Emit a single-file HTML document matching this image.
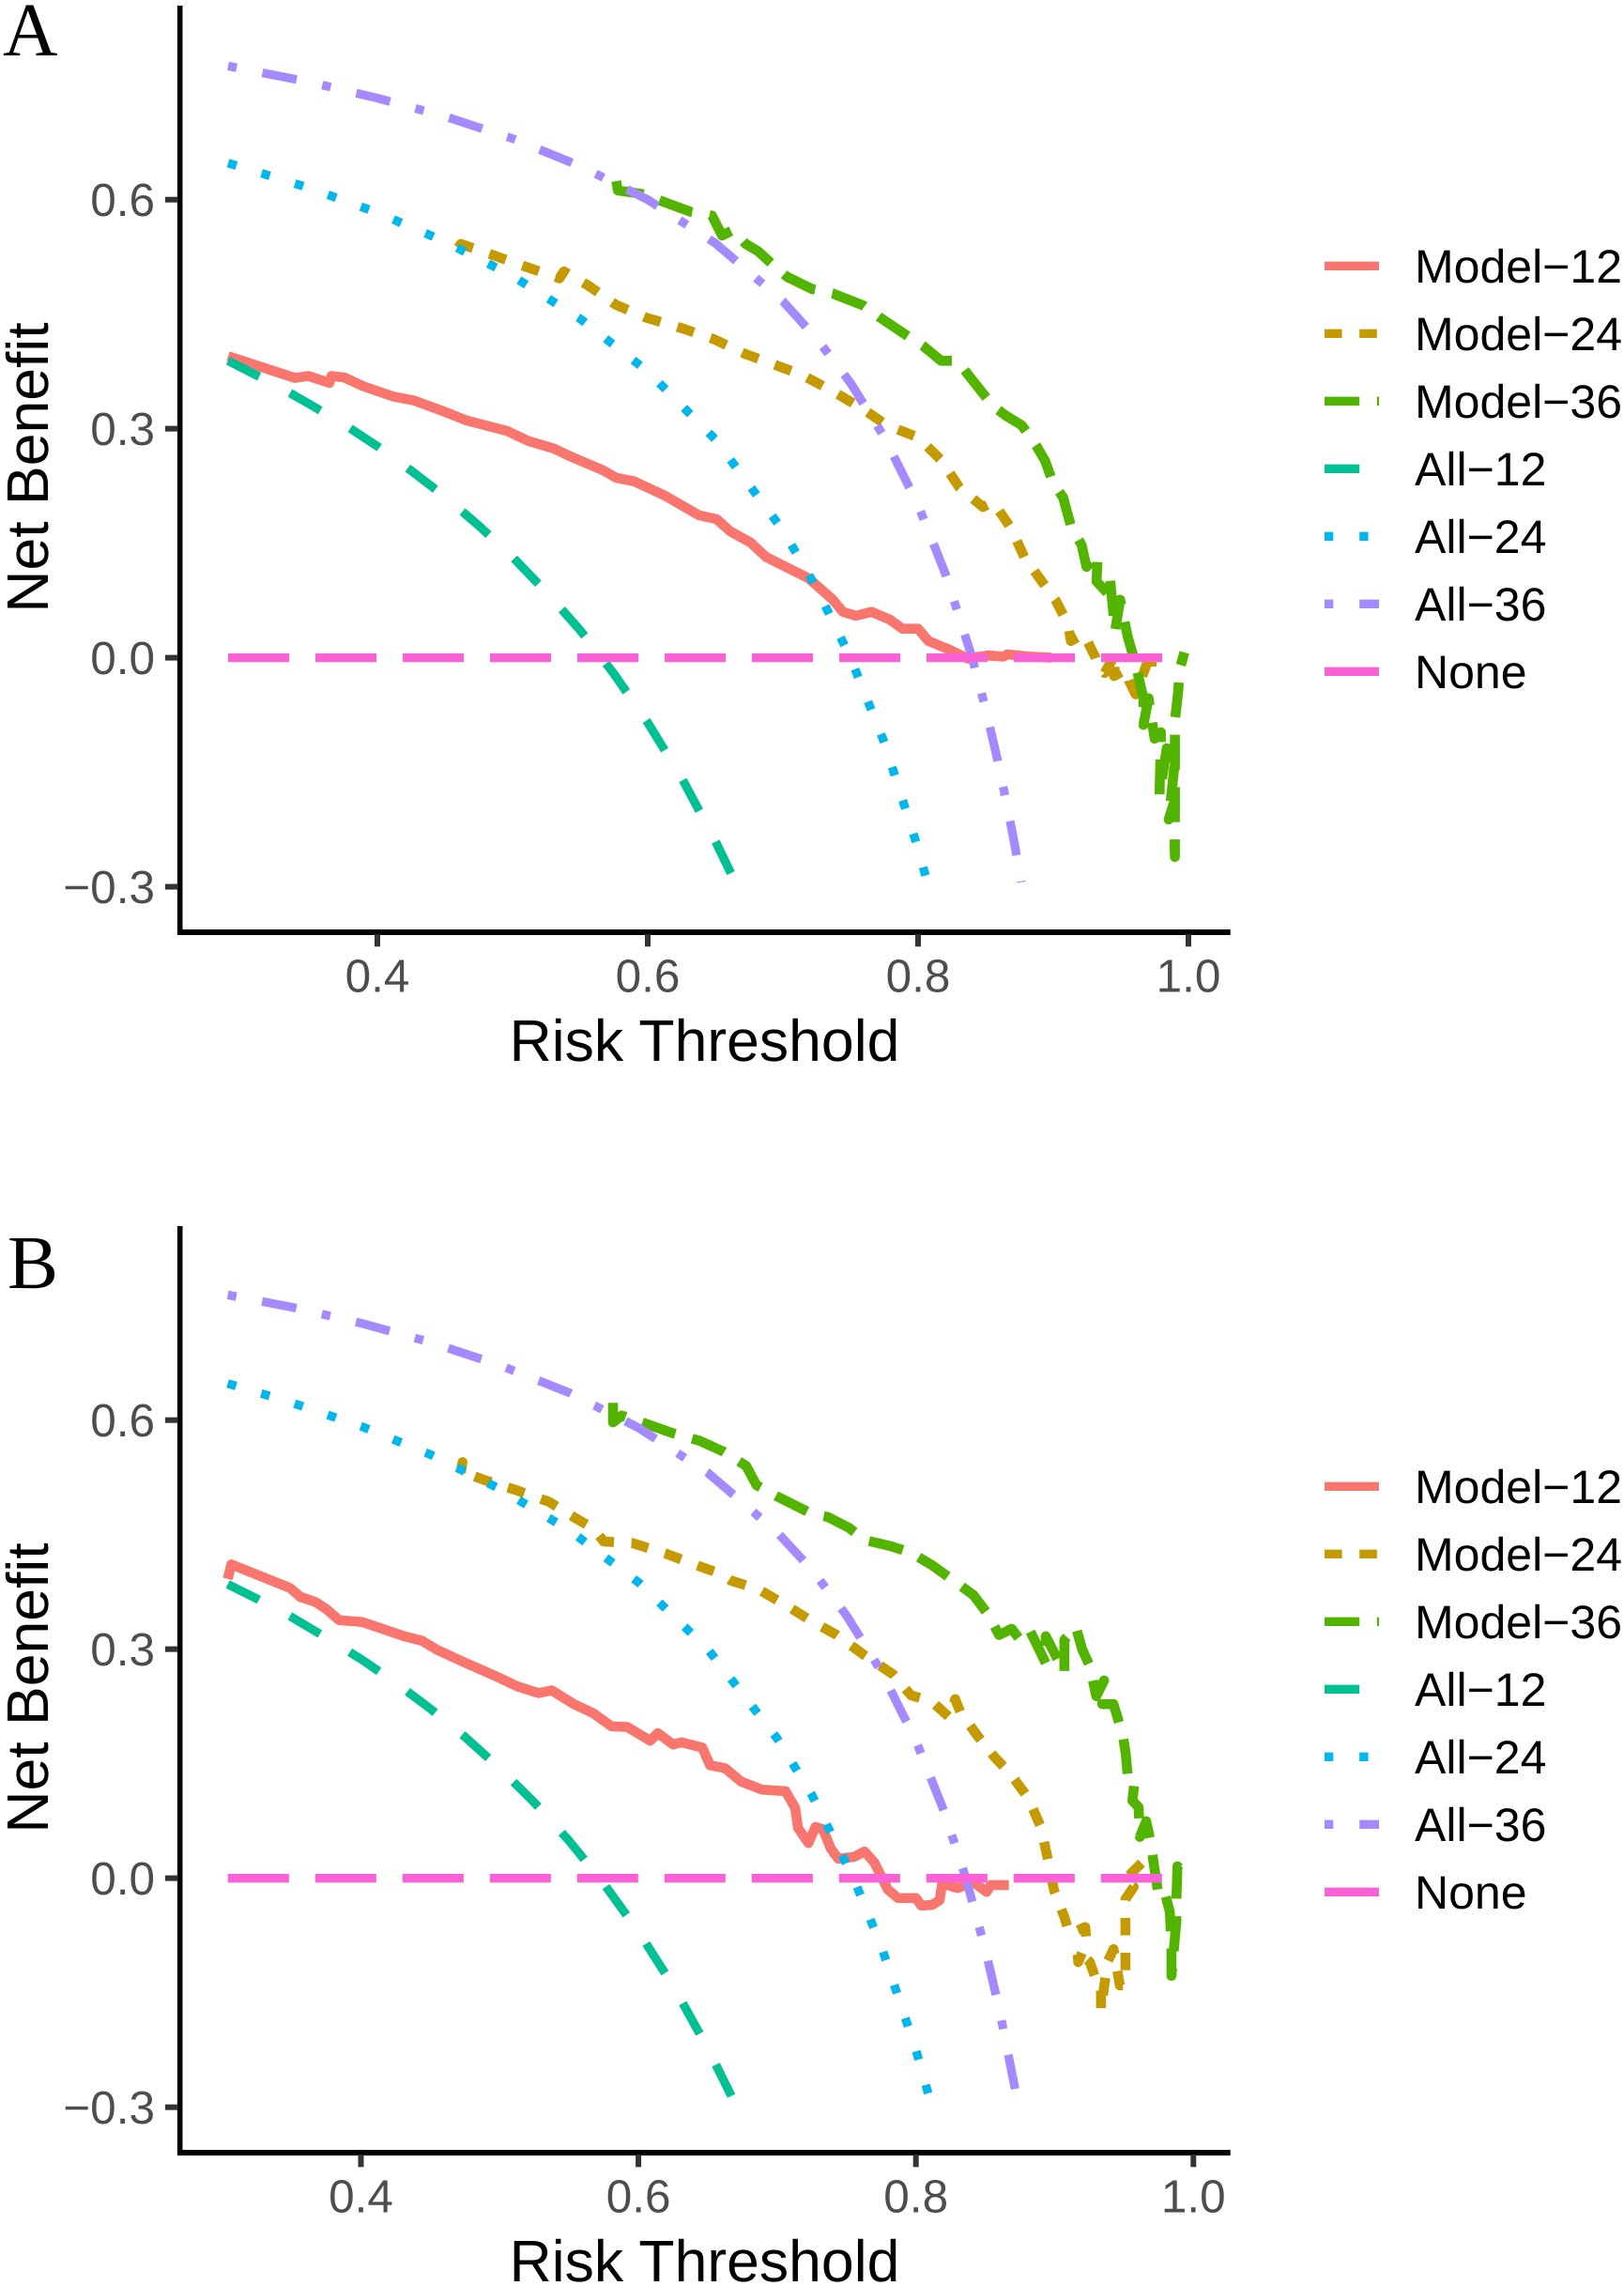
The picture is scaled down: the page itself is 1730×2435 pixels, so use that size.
<!DOCTYPE html>
<html lang="en">
<head>
<meta charset="utf-8">
<title>Decision curves</title>
<style>
html,body{margin:0;padding:0;background:#fff;}
svg{display:block;text-rendering:geometricPrecision;}
text{font-family:"Liberation Sans",sans-serif;}
</style>
</head>
<body>
<svg id="figure" xmlns="http://www.w3.org/2000/svg" width="1730" height="2435" viewBox="0 0 1730 2435">
  <rect x="0" y="0" width="1730" height="2435" fill="#ffffff"/>
  <text x="3" y="59" font-size="81" style="font-family:'Liberation Serif',serif" fill="#000">A</text>
  <text x="8" y="1372" font-size="81" style="font-family:'Liberation Serif',serif" fill="#000">B</text>
  <g id="panel-a"></g>
  <g id="panel-b"></g>
</svg>
<script>
// ---------- shared axis labels ----------
const xTickValues = [0.4, 0.6, 0.8, 1.0];
const xTickLabels = ["0.4", "0.6", "0.8", "1.0"];
const yTickValues = [-0.3, 0, 0.3, 0.6];
const yTickLabels = ["\u22120.3", "0.0", "0.3", "0.6"];
const seriesNames = ["Model\u221212", "Model\u221224", "Model\u221236", "All\u221212", "All\u221224", "All\u221236", "None"];

// ---------- panel A ----------
const aModel12T = [.2896,.339,.349,.3646,.366,.3757,.389,.412,.427,.450,.4656,.496,.5116,.5306,.5424,.567,.5767,.590,.613,.638,.651,.661,.676,.6875,.719,.737,.7444,.754,.7656,.779,.7885,.800,.8076,.823,.8365,.852,.863,.866,.8826,.8986];
const aModel12V = [.395,.3665,.369,.360,.369,.367,.356,.342,.337,.322,.311,.297,.284,.274,.264,.2455,.2357,.231,.212,.1865,.1815,.1656,.151,.132,.104,.076,.060,.055,.060,.050,.038,.038,.022,.0107,-.001,.003,.0014,.0044,.0014,0];
const aModel24T = [.4597,.4618,.4868,.5116,.5347,.538,.5556,.5767,.5997,.6264,.6493,.672,.6937,.7146,.737,.758,.777,.800,.817,.8306,.848,.8556,.869,.8785,.894,.9015,.911,.913,.9226,.931,.9333,.938,.946,.945,.954,.956,.961,.9727,.9727];
const aModel24V = [.537,.542,.5266,.511,.497,.506,.488,.462,.445,.431,.417,.398,.384,.370,.349,.327,.3045,.2885,.259,.223,.1975,.204,.169,.132,.094,.076,.044,.022,.0315,.001,-.0115,-.02,.005,-.024,-.015,-.03,-.048,.009,-.0115];
const aModel36T = [.5767,.578,.5958,.632,.6476,.655,.663,.6725,.682,.6917,.703,.7215,.737,.760,.7715,.790,.804,.817,.829,.844,.8556,.865,.8767,.888,.894,.8997,.9073,.913,.921,.9246,.933,.932,.940,.942,.9457,.9495,.955,.961,.9667,.9667,.9705,.975,.9797,.9786,.984,.9903,.9854,.9889,.990,.990,.9924,.9935,.997];
const aModel36V = [.6243,.612,.6075,.584,.579,.553,.560,.542,.532,.516,.499,.483,.477,.461,.446,.424,.408,.389,.389,.355,.3295,.317,.3045,.276,.258,.2295,.210,.173,.1476,.119,.135,.100,.085,.104,.035,.076,.028,-.009,-.053,-.088,-.053,-.106,-.0977,-.18,-.1185,-.131,-.212,-.192,-.261,-.082,-.045,-.0155,.007];
const aAll12T = [.2896,.325,.35,.375,.40,.425,.45,.475,.50,.525,.55,.575,.60,.625,.65,.662];
const aAll12V = [.389,.357,.332,.306,.277,.245,.211,.173,.132,.086,.036,-.021,-.085,-.157,-.240,-.284];
const aAll24T = [.2896,.35,.40,.45,.50,.55,.60,.65,.70,.725,.75,.775,.80,.806];
const aAll24V = [.648,.615,.583,.545,.50,.444,.375,.286,.167,.091,0,-.111,-.25,-.289];
const aAll36T = [.2896,.35,.40,.45,.50,.55,.60,.65,.70,.725,.75,.775,.80,.82,.84,.85,.86,.87,.8764];
const aAll36V = [.775,.754,.733,.709,.68,.644,.6,.543,.467,.418,.36,.289,.2,.111,0,-.067,-.143,-.231,-.294];
const aNoneT = [.2896,.9833];
const aNoneV = [0,0];

// ---------- panel B ----------
const bModel12T = [.304,.3066,.349,.3563,.3675,.375,.3843,.401,.431,.444,.455,.476,.498,.513,.528,.5375,.554,.5675,.5805,.592,.6085,.614,.625,.631,.646,.6516,.6625,.674,.689,.706,.713,.715,.7225,.7276,.733,.7386,.744,.7555,.763,.770,.7798,.787,.800,.804,.8116,.817,.819,.830,.8414,.851,.854,.867];
const bModel12V = [.392,.411,.380,.3685,.3615,.3525,.338,.3355,.317,.311,.299,.2815,.264,.251,.2425,.246,.2275,.216,.199,.198,.180,.190,.175,.178,.171,.148,.144,.1266,.116,.114,.092,.066,.046,.067,.064,.039,.0255,.028,.035,.0205,-.015,-.026,-.026,-.036,-.035,-.029,-.007,-.013,-.005,-.018,-.009,-.009];
const bModel24T = [.472,.4732,.472,.489,.5133,.5356,.5525,.5675,.575,.5955,.620,.644,.659,.6665,.687,.7095,.7255,.7425,.763,.7835,.7965,.8116,.8245,.8283,.832,.845,.856,.8675,.881,.890,.8956,.8995,.907,.9106,.922,.923,.917,.9164,.9254,.9288,.9334,.9334,.938,.9424,.947,.951,.951,.951,.957,.950,.9638,.968];
const bModel24V = [.531,.545,.533,.5215,.5074,.493,.474,.458,.441,.439,.425,.4085,.399,.390,.378,.354,.336,.319,.292,.267,.2395,.2314,.210,.2345,.2176,.185,.160,.138,.105,.067,.0205,-.0156,-.051,-.073,-.064,-.083,-.11,-.095,-.11,-.128,-.1385,-.173,-.11,-.093,-.1405,-.14,-.073,-.0275,-.0114,-.003,.022,.0095];
const bModel36T = [.5817,.5817,.588,.6105,.625,.644,.661,.6777,.685,.700,.7255,.7367,.7517,.763,.7816,.7966,.8116,.8265,.8414,.8526,.8599,.869,.8757,.8825,.8936,.8936,.8995,.907,.907,.9153,.9198,.9254,.93,.9356,.9343,.9424,.9491,.9512,.9526,.958,.956,.9605,.9614,.966,.9694,.9714,.975,.9795,.983,.9842,.9842,.9877,.9877,.9885,.9953];
const bModel36V = [.6227,.597,.606,.592,.5827,.573,.559,.540,.515,.500,.477,.473,.459,.443,.435,.4263,.410,.3906,.371,.344,.3185,.3267,.3107,.323,.2816,.3168,.296,.269,.3123,.329,.300,.2775,.2385,.259,.228,.228,.1876,.163,.136,.1322,.1016,.093,.054,.0746,.046,.019,-.024,-.02,-.044,-.089,-.128,-.0566,-.03,.0156,.0033];
const bAll12T = [.304,.325,.35,.375,.40,.425,.45,.475,.50,.525,.55,.575,.60,.625,.65,.668];
const bAll12V = [.385,.366,.342,.315,.287,.256,.222,.185,.144,.099,.049,-.007,-.07,-.141,-.223,-.289];
const bAll24T = [.304,.35,.40,.45,.50,.55,.60,.65,.70,.725,.755,.775,.80,.809];
const bAll24V = [.648,.623,.592,.555,.51,.456,.3875,.30,.183,.109,0,-.089,-.225,-.283];
const bAll36T = [.304,.35,.40,.45,.50,.55,.60,.65,.70,.725,.75,.775,.80,.82,.836,.85,.86,.872];
const bAll36V = [.764,.748,.727,.702,.672,.636,.59,.531,.453,.404,.344,.271,.18,.089,0,-.093,-.171,-.281];
const bNoneT = [.3041,.98];
const bNoneV = [0,0];

// ---------- styling ----------
const NS = "http://www.w3.org/2000/svg";
const lineUnit = 9.3;
const seriesColors = ["#F8766D", "#C49A00", "#53B400", "#00C094", "#00B6EB", "#A58AFF", "#FB61D7"];
const seriesDashes = [[], [2,2], [4,2], [4,4], [1,3], [1,3,4,3], [7,3]];
const seriesWidths = [10.6, 10.6, 10.6, 9.3, 9.3, 9.3, 9.3];
const seriesIds = ["model-12", "model-24", "model-36", "all-12", "all-24", "all-36", "none"];

function dashOf(i) {
  return seriesDashes[i].map(function (d) { return d * lineUnit; }).join(" ") || "none";
}

function addLine(parent, x1, y1, x2, y2, color, width, name) {
  const l = document.createElementNS(NS, "line");
  l.setAttribute("x1", x1);
  l.setAttribute("y1", y1);
  l.setAttribute("x2", x2);
  l.setAttribute("y2", y2);
  l.setAttribute("stroke", color);
  l.setAttribute("stroke-width", width);
  
  
  parent.appendChild(l);
  return l;
}

function addText(parent, str, x, y, size, color, anchor, name) {
  const t = document.createElementNS(NS, "text");
  t.setAttribute("x", x);
  t.setAttribute("y", y);
  t.setAttribute("font-size", size);
  t.setAttribute("fill", color);
  t.setAttribute("text-anchor", anchor);
  
  
  t.textContent = str;
  parent.appendChild(t);
  return t;
}

function drawPanel(groupId, offsetY, xAt04, xPerUnit, tSeries, vSeries) {
  const g = document.getElementById(groupId);
  const xScale = function (t) { return xAt04 + (t - 0.4) * xPerUnit; };
  const yScale = function (v) { return 700.6 + offsetY - v * 813.2; };
  const axisY = 993 + offsetY;

  // data lines
  tSeries.forEach(function (ts, i) {
    const vs = vSeries[i];
    let d = "";
    ts.forEach(function (t, k) {
      d += (k ? "L" : "M") + xScale(t).toFixed(2) + " " + yScale(vs[k]).toFixed(2);
    });
    const p = document.createElementNS(NS, "path");
    p.setAttribute("d", d);
    p.setAttribute("fill", "none");
    p.setAttribute("stroke", seriesColors[i]);
    p.setAttribute("stroke-width", seriesWidths[i]);
    p.setAttribute("stroke-linejoin", "round");
    p.setAttribute("stroke-linecap", "butt");
    p.setAttribute("stroke-dasharray", dashOf(i));
    
    
    g.appendChild(p);
  });

  // axes
  addLine(g, 191.7, 6 + offsetY, 191.7, axisY + 3, "#000", 5.6, "y-axis-line");
  addLine(g, 189, axisY, 1310.7, axisY, "#000", 6, "x-axis-line");

  yTickValues.forEach(function (v, i) {
    const y = yScale(v);
    addLine(g, 176, y, 189.5, y, "#333333", 6, "y-tick");
    addText(g, yTickLabels[i], 165, y + 17.3, 49.5, "#4d4d4d", "end", "y-tick-label");
  });
  xTickValues.forEach(function (t, i) {
    const x = xScale(t);
    addLine(g, x, axisY + 2, x, axisY + 15.3, "#333333", 6, "x-tick");
    addText(g, xTickLabels[i], x, axisY + 63.5, 49.5, "#4d4d4d", "middle", "x-tick-label");
  });

  addText(g, "Risk Threshold", 750.5, axisY + 137, 62.5, "#000", "middle", "x-axis-title");
  const yt = addText(g, "Net Benefit", 0, 0, 62.5, "#000", "middle", "y-axis-title");
  yt.setAttribute("transform", "translate(51 " + (498 + offsetY) + ") rotate(-90)");

  // legend
  seriesNames.forEach(function (name, i) {
    const y = 283.3 + offsetY + i * 72;
    const key = addLine(g, 1411, y, 1469, y, seriesColors[i], lineUnit, "legend-key-" + seriesIds[i]);
    key.setAttribute("stroke-dasharray", dashOf(i));
    addText(g, name, 1507, y + 17.7, 50, "#000", "start", "legend-label-" + seriesIds[i]);
  });
}

drawPanel("panel-a", 0, 402, 1440,
  [aModel12T, aModel24T, aModel36T, aAll12T, aAll24T, aAll36T, aNoneT],
  [aModel12V, aModel24V, aModel36V, aAll12V, aAll24V, aAll36V, aNoneV]);
drawPanel("panel-b", 1300, 384.5, 1478,
  [bModel12T, bModel24T, bModel36T, bAll12T, bAll24T, bAll36T, bNoneT],
  [bModel12V, bModel24V, bModel36V, bAll12V, bAll24V, bAll36V, bNoneV]);
</script>
</body>
</html>
